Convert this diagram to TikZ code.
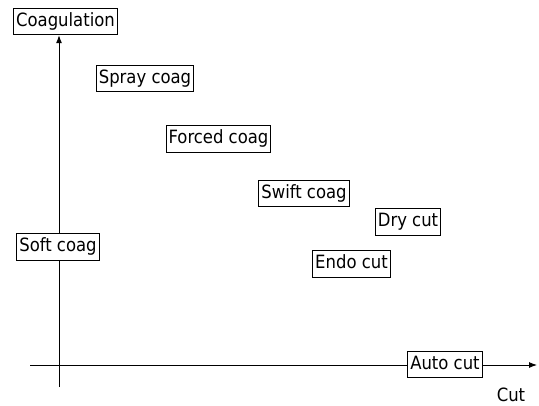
\documentclass[tikz,border=0pt]{standalone}
\usepackage{fontspec}
\setmainfont{DejaVu Sans Condensed}
\usetikzlibrary{arrows.meta}
\begin{document}
\begin{tikzpicture}[x=1pt,y=-1pt,
  lbl/.style={draw=black,line width=0.9pt,fill=white,inner xsep=2.5pt,inner ysep=0pt,minimum height=26.5pt,font=\fontsize{18.3}{21}\selectfont,text height=13.5pt,text depth=4pt},
  axis/.style={line width=0.9pt},
  tip/.style={-{Latex[length=8pt,width=6pt]}}]
\useasboundingbox (0,0) rectangle (539,405);
\coordinate (vbot) at (59,387);
\coordinate (hleft) at (30,365);
\coordinate (hright) at (537,365);
\node[lbl] (coag) at (65.5,21.5) {Coagulation};
\node[lbl] (spray) at (145,78.5) {Spray coag};
\node[lbl] (forced) at (218.5,139) {Forced coag};
\node[lbl] (swift) at (304,193.5) {Swift coag};
\node[lbl] (dry) at (408,222) {Dry cut};
\node[lbl] (endo) at (351.5,264) {Endo cut};
\draw[axis,tip] (vbot) -- (vbot |- coag.south);
\draw[axis,tip] (hleft) -- (hright);
\node[lbl] (soft) at (58,247) {Soft coag};
\node[lbl] (auto) at (445,364.5) {Auto cut};
\node[font=\fontsize{18.3}{21}\selectfont,inner sep=0pt] (cut) at (511,394.5) {Cut};
\end{tikzpicture}
\end{document}
